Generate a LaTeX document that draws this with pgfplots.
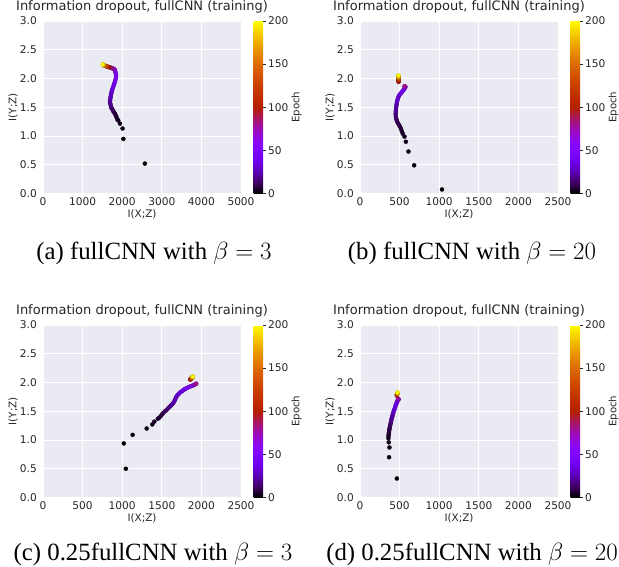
\documentclass[border=0pt]{standalone}
\usepackage[no-math]{fontspec}
\setmainfont{DejaVu Sans}
\newfontfamily\capfont{Liberation Serif}
\usepackage{pgfplots}
\usepackage{pgfplotstable}
\pgfplotsset{compat=1.18}
\definecolor{bgc}{HTML}{EAEAF2}
\definecolor{tc}{HTML}{262626}
\pgfplotsset{
  colormap={gnuplot}{rgb=(0,0,0) rgb=(0.25,0.0002,0.3827) rgb=(0.3536,0.002,0.7071)
    rgb=(0.4330,0.0066,0.9239) rgb=(0.5,0.0156,1) rgb=(0.5590,0.0305,0.9239)
    rgb=(0.6124,0.0527,0.7071) rgb=(0.6614,0.0837,0.3827) rgb=(0.7071,0.125,0)
    rgb=(0.75,0.178,0) rgb=(0.7906,0.244,0) rgb=(0.8292,0.325,0) rgb=(0.8660,0.4219,0)
    rgb=(0.9014,0.5364,0) rgb=(0.9354,0.6699,0) rgb=(0.9682,0.8240,0) rgb=(1,1,0)},
  idplot/.style={
    scale only axis, width=198pt, height=172.5pt,
    xmin=0, ymin=0, ymax=3,
    axis background/.style={fill=bgc},
    axis line style={draw=none},
    grid=major, major grid style={white, line width=0.9pt},
    major tick length=0pt,
    ytick={0,0.5,1,1.5,2,2.5,3},
    /pgf/number format/assume math mode=true,
    /pgf/number format/1000 sep={},
    yticklabel style={/pgf/number format/fixed, /pgf/number format/fixed zerofill,
      /pgf/number format/precision=1, anchor=east, inner sep=0pt, xshift=-6pt},
    xticklabel style={anchor=base, inner sep=0pt, yshift=-12pt},
    tick label style={font=\fontsize{10.6}{12}\selectfont, text=tc},
    title={Information dropout, fullCNN (training)},
    title style={at={(axis description cs:0.5,1)}, anchor=base, yshift=4.3pt,
      font=\fontsize{13}{15}\selectfont, text=tc},
    xlabel={I(X;Z)}, ylabel={I(Y;Z)},
    every axis x label/.style={at={(axis description cs:0.5,-0.1395)}, anchor=base,
      font=\fontsize{10.4}{12}\selectfont, text=tc},
    every axis y label/.style={at={(axis description cs:-0.134,0.5)}, rotate=90, anchor=base,
      font=\fontsize{10.4}{12}\selectfont, text=tc},
    colormap name=gnuplot, point meta min=0, point meta max=200,
    colorbar,
    colorbar style={
      scale only axis, width=9.3pt, height=172.5pt,
      at={(parent axis.north east)}, anchor=north west, xshift=4.2pt,
      grid=none, axis background/.style={}, title={}, xlabel={},
      axis line style={draw=none},
      ytick={0,50,100,150,200}, ytick pos=right,
      major tick length=3pt, tick align=outside, tick style={tc, line width=0.6pt},
      yticklabel pos=right,
      /pgf/number format/assume math mode=true,
      tick label style={font=\fontsize{10.6}{12}\selectfont, text=tc,
        /pgf/number format/assume math mode=true},
      yticklabel style={/pgf/number format/fixed, anchor=west, inner sep=0pt, xshift=2pt,
        font=\fontsize{10.6}{12}\selectfont, text=tc},
      ylabel={Epoch},
      every axis y label/.style={at={(axis description cs:4.9,0.5)}, rotate=90, anchor=base,
        font=\fontsize{10.2}{12}\selectfont, text=tc},
    },
  },
  idscatter/.style={scatter, only marks, mark=*, mark size=2pt, scatter src=explicit},
}
\pgfplotstableread{
x y e
2572 0.52 0
2030 0.95 1
2010 1.13 2
1944 1.215 3
1900 1.27 4
1877 1.29 5
1855 1.33 6
1835 1.36 7
1815 1.39 8
1795 1.41 9
1776 1.43 10
1755 1.46 12
1735 1.48 14
1720 1.50 16
1712 1.53 18
1700 1.56 20
1692 1.59 22
1695 1.62 24
1700 1.65 26
1709 1.68 28
1715 1.71 30
1725 1.74 32
1734 1.77 34
1745 1.80 36
1760 1.83 38
1776 1.86 40
1790 1.89 42
1805 1.92 44
1818 1.95 46
1830 1.98 48
1843 2.02 50
1845 2.05 52
1840 2.08 54
1830 2.11 56
1820 2.13 58
1815 2.15 60
1800 2.16 64
1780 2.17 68
1760 2.175 72
1740 2.18 76
1720 2.185 80
1700 2.19 85
1680 2.195 90
1660 2.20 95
1650 2.20 100
1630 2.205 110
1610 2.21 120
1590 2.215 130
1570 2.22 140
1555 2.225 150
1540 2.23 160
1530 2.235 170
1520 2.24 180
1512 2.243 190
1507 2.245 199
}\dataA
\pgfplotstableread{
x y e
1035 0.07 0
684 0.49 1
612 0.73 2
579 0.90 3
562 0.99 4
540 1.04 5
528 1.08 6
519 1.12 7
505 1.16 8
494 1.19 9
480 1.22 10
470 1.25 11
462 1.28 12
456 1.31 14
452 1.35 16
450 1.39 18
452 1.43 20
455 1.47 22
458 1.51 24
462 1.55 26
466 1.58 28
470 1.61 30
476 1.64 32
483 1.67 34
492 1.70 36
502 1.72 38
514 1.74 40
526 1.76 42
538 1.78 44
550 1.80 46
560 1.82 48
567 1.835 50
571 1.85 55
572 1.855 60
570 1.86 65
568 1.86 70
566 1.86 75
562 1.865 80
488 1.94 90
487 1.95 95
486 1.96 100
486 1.97 110
486 1.98 120
485 1.99 130
486 2.00 140
486 2.01 150
486 2.02 160
487 2.03 170
486 2.04 180
486 2.045 190
486 2.05 199
}\dataB
\pgfplotstableread{
x y e
1046 0.50 0
1020 0.94 1
1132 1.09 2
1309 1.20 3
1380 1.27 4
1406 1.32 5
1450 1.37 6
1469 1.39 7
1490 1.42 8
1505 1.45 9
1519 1.47 10
1540 1.50 12
1560 1.52 14
1582 1.555 16
1600 1.58 18
1615 1.60 20
1630 1.62 22
1646 1.645 24
1660 1.68 26
1670 1.71 28
1680 1.74 30
1690 1.765 32
1705 1.79 34
1720 1.81 36
1735 1.83 38
1751 1.845 40
1765 1.86 42
1780 1.875 44
1795 1.89 46
1814 1.90 48
1830 1.915 50
1850 1.925 53
1865 1.935 56
1877 1.94 60
1895 1.95 64
1910 1.96 68
1920 1.97 72
1930 1.975 76
1935 1.98 80
1860 2.05 90
1862 2.055 100
1865 2.06 110
1870 2.07 120
1875 2.075 130
1880 2.08 140
1885 2.09 150
1888 2.095 160
1889 2.10 170
1890 2.10 180
1890 2.10 190
1890 2.10 199
}\dataC
\pgfplotstableread{
x y e
465 0.33 0
367 0.70 1
372 0.87 2
363 0.96 3
359 1.03 4
360 1.07 5
363 1.10 6
365 1.13 7
368 1.16 8
372 1.19 9
376 1.22 10
380 1.25 12
385 1.28 14
389 1.30 16
393 1.33 18
398 1.36 20
403 1.39 22
408 1.41 24
413 1.44 26
418 1.46 28
423 1.49 30
430 1.52 32
437 1.54 34
444 1.57 36
450 1.60 38
456 1.62 40
462 1.64 42
467 1.66 44
472 1.675 46
476 1.69 48
480 1.70 50
484 1.705 55
485 1.71 60
486 1.71 65
484 1.71 70
480 1.715 75
466 1.77 85
466 1.78 95
466 1.785 105
467 1.79 115
468 1.795 125
470 1.80 140
472 1.81 155
473 1.815 170
474 1.82 185
474 1.826 199
}\dataD
\begin{document}
\begin{tikzpicture}
\useasboundingbox (0pt,0pt) rectangle (619pt,567pt);
\begin{axis}[idplot, at={(43pt,373.5pt)}, anchor=south west, xmax=5000, xtick={0,1000,2000,3000,4000,5000}]
\addplot[idscatter] table[x=x,y=y,meta=e] {\dataA};
\end{axis}
\begin{axis}[idplot, at={(360pt,373.5pt)}, anchor=south west, xmax=2500, xtick={0,500,1000,1500,2000,2500}]
\addplot[idscatter] table[x=x,y=y,meta=e] {\dataB};
\end{axis}
\begin{axis}[idplot, at={(43pt,69.5pt)}, anchor=south west, xmax=2500, xtick={0,500,1000,1500,2000,2500}]
\addplot[idscatter] table[x=x,y=y,meta=e] {\dataC};
\end{axis}
\begin{axis}[idplot, at={(360pt,69.5pt)}, anchor=south west, xmax=2500, xtick={0,500,1000,1500,2000,2500}]
\addplot[idscatter] table[x=x,y=y,meta=e] {\dataD};
\end{axis}
\node[anchor=base, font=\capfont\fontsize{24.8}{28}\selectfont] at (154pt,307pt) {(a) fullCNN with $\beta = 3$};
\node[anchor=base, font=\capfont\fontsize{24.8}{28}\selectfont] at (472pt,307pt) {(b) fullCNN with $\beta = 20$};
\node[anchor=base, font=\capfont\fontsize{24.8}{28}\selectfont] at (153pt,6pt) {(c) 0.25fullCNN with $\beta = 3$};
\node[anchor=base, font=\capfont\fontsize{24.8}{28}\selectfont] at (472pt,6pt) {(d) 0.25fullCNN with $\beta = 20$};
\end{tikzpicture}
\end{document}
